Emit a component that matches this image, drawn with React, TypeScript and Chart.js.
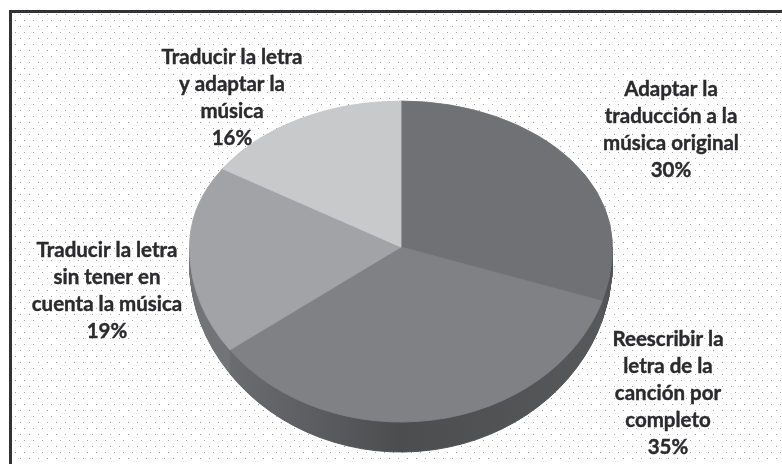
import React, { useEffect, useRef } from "react";
import { Chart, registerables } from "chart.js";

Chart.register(...registerables);

const categories = [
  "Adaptar la traducción a la música original",
  "Reescribir la letra de la canción por completo",
  "Traducir la letra sin tener en cuenta la música",
  "Traducir la letra y adaptar la música",
];
const values = [30, 35, 19, 16];
const labelLines = [
  ["Adaptar la", "traducción a la", "música original"],
  ["Reescribir la", "letra de la", "canción por", "completo"],
  ["Traducir la letra", "sin tener en", "cuenta la música"],
  ["Traducir la letra", "y adaptar la", "música"],
];
const labelCenters = [
  [671, 89],
  [668, 339],
  [107, 250],
  [232, 57],
];
const faceColors = ["#707175", "#808185", "#a2a3a7", "#c8c9cb"];
const sideColors = ["#545558", "#4f5052", "#737478", "#909194"];

const LINE_H = 27.2;
const TOP_RY = 146;
const BOTTOM_RY = 175;
const DEPTH = 30;

function dotPattern(ctx: CanvasRenderingContext2D) {
  const c = document.createElement("canvas");
  c.width = 18;
  c.height = 12;
  const p = c.getContext("2d")!;
  p.fillStyle = "#ffffff";
  p.fillRect(0, 0, 18, 12);
  p.fillStyle = "#a0a0a0";
  p.fillRect(2, 2, 1, 1);
  p.fillRect(11, 2, 1, 1);
  p.fillRect(6, 8, 1, 1);
  p.fillRect(15, 8, 1, 1);
  return ctx.createPattern(c, "repeat")!;
}

function withOptions(arc: any, color: any, draw: () => void) {
  const saved = arc.options;
  arc.options = Object.assign(Object.create(saved), { backgroundColor: color, borderColor: color });
  draw();
  arc.options = saved;
}

const backdropPlugin = {
  id: "backdrop",
  beforeDraw(chart: any) {
    const { ctx, width, height } = chart;
    ctx.save();
    ctx.fillStyle = "#ffffff";
    ctx.fillRect(0, 0, width, height);
    ctx.fillStyle = dotPattern(ctx);
    ctx.fillRect(11, 13, width - 11, height - 13);
    ctx.fillStyle = "#333335";
    ctx.fillRect(9, 10, width - 9, 3);
    ctx.fillRect(9, 10, 3, height - 10);
    ctx.restore();
  },
};

const tiltPlugin = {
  id: "tilt",
  beforeDatasetsDraw(chart: any) {
    const { ctx, width, height } = chart;
    const arcs = chart.getDatasetMeta(0).data;
    const cy = arcs[0].y;
    const r = arcs[0].outerRadius;
    const topScale = TOP_RY / r;
    const bottomScale = BOTTOM_RY / r;

    // side wall: the lower half of the pie, shifted and stretched downward
    const wall = ctx.createLinearGradient(arcs[0].x - r, 0, arcs[0].x + r, 0);
    wall.addColorStop(0.1, "#6b6c6f");
    wall.addColorStop(0.5, "#4c4d4f");
    wall.addColorStop(1, "#58595b");
    for (let d = DEPTH; d >= 1; d--) {
      ctx.save();
      ctx.beginPath();
      ctx.rect(0, cy, width, height - cy);
      ctx.clip();
      ctx.translate(0, cy + d * 0.5);
      ctx.scale(1, (BOTTOM_RY + d * 0.5) / r);
      ctx.translate(0, -cy);
      arcs.forEach((arc: any, i: number) => {
        withOptions(arc, i === 1 ? wall : sideColors[i], () => arc.draw(ctx));
      });
      ctx.restore();
    }

    // top face: upper and lower halves have different foreshortening
    [
      { y: 0, h: cy, s: topScale },
      { y: cy, h: height - cy, s: bottomScale },
    ].forEach(({ y, h, s }) => {
      ctx.save();
      ctx.beginPath();
      ctx.rect(0, y, width, h);
      ctx.clip();
      ctx.translate(0, cy);
      ctx.scale(1, s);
      ctx.translate(0, -cy);
      arcs.forEach((arc: any) => arc.draw(ctx));
      ctx.restore();
    });
    return false;
  },
  afterDraw(chart: any) {
    const { ctx } = chart;
    ctx.save();
    ctx.font = 'bold 20.5px Lato, "Open Sans", sans-serif';
    ctx.fillStyle = "#2b2b2d";
    ctx.strokeStyle = "#2b2b2d";
    ctx.lineWidth = 0.4;
    ctx.textAlign = "center";
    ctx.textBaseline = "middle";
    labelLines.forEach((lines, i) => {
      const [x, y] = labelCenters[i];
      [...lines, `${values[i]}%`].forEach((line, j) => {
        ctx.fillText(line, x, y + j * LINE_H);
        ctx.strokeText(line, x, y + j * LINE_H);
      });
    });
    ctx.restore();
  },
};

export default function App() {
  const ref = useRef<HTMLCanvasElement>(null);
  useEffect(() => {
    const chart = new Chart(ref.current!, {
      type: "pie",
      data: {
        labels: categories,
        datasets: [
          {
            data: values,
            backgroundColor: faceColors,
            borderColor: faceColors,
            borderWidth: 1,
          },
        ],
      },
      options: {
        responsive: false,
        animation: false,
        layout: { padding: { top: 35, bottom: 5, left: 20, right: 0 } },
        plugins: { legend: { display: false }, tooltip: { enabled: false } },
      },
      plugins: [backdropPlugin, tiltPlugin],
    });
    return () => chart.destroy();
  }, []);
  return (
    <div style={{ position: "absolute", left: 0, top: 0, width: 782, height: 464 }}>
      <canvas ref={ref} width={782} height={464} style={{ display: "block" }} />
    </div>
  );
}
